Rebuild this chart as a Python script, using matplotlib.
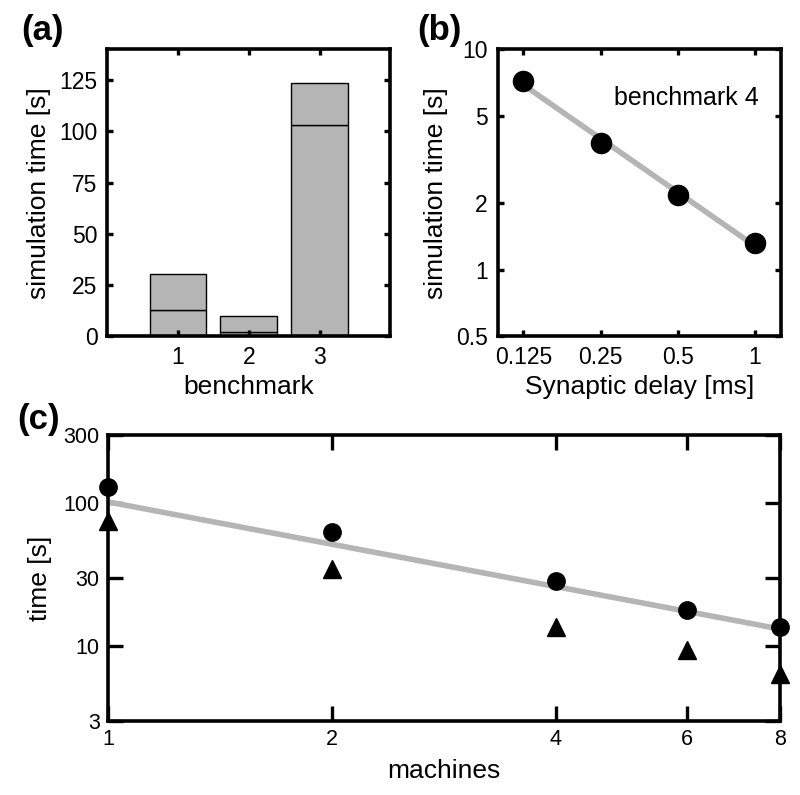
import numpy as np
import matplotlib
matplotlib.use("Agg")
import matplotlib.pyplot as plt
from matplotlib.ticker import FixedLocator, FixedFormatter, NullLocator

plt.rcParams['font.family'] = ['Liberation Sans', 'DejaVu Sans']

# (a) benchmarks: lower part of bar and total height
benchmarks = [1, 2, 3]
time_lower = [13, 2, 103]
time_total = [30.5, 10, 123.5]

# (b) benchmark 4 vs synaptic delay
delay = [0.125, 0.25, 0.5, 1]
time_delay = [7.2, 3.75, 2.18, 1.33]

# (c) scaling with number of machines
machines = [1, 2, 4, 6, 8]
time_circ = [130, 63, 28.7, 17.9, 13.6]
time_tri = [75, 34.8, 13.7, 9.4, 6.4]
ideal_machines = [1, 8]
ideal_time = [102, 13.2]

gray = '#b5b5b6'
tick_fs = 16.5
label_fs = 19


def style_axes(ax, ticklen=4.5):
    for s in ax.spines.values():
        s.set_linewidth(2.6)
    ax.tick_params(which='major', direction='in', top=True, right=True,
                   length=ticklen, width=2.4, labelsize=tick_fs, pad=7)
    ax.tick_params(which='minor', length=0)


fig = plt.figure(figsize=(8, 7.95), dpi=100)

# ---- panel (a)
ax_a = fig.add_axes([0.134, 0.577, 0.354, 0.361])
lower = np.array(time_lower)
upper = np.array(time_total) - lower
ax_a.bar(benchmarks, lower, width=0.8, color=gray, edgecolor='black', linewidth=1.0)
ax_a.bar(benchmarks, upper, width=0.8, bottom=lower, color=gray, edgecolor='black', linewidth=1.0)
ax_a.set_xlim(0, 4)
ax_a.set_ylim(0, 140)
ax_a.set_xticks(benchmarks)
ax_a.set_yticks([0, 25, 50, 75, 100, 125])
ax_a.set_xlabel('benchmark', fontsize=label_fs, labelpad=4)
ax_a.set_ylabel('simulation time [s]', fontsize=label_fs, labelpad=6)
style_axes(ax_a)

# ---- panel (b)
ax_b = fig.add_axes([0.622, 0.577, 0.354, 0.361])
p = np.polyfit(np.log(delay), np.log(time_delay), 1)
fit_b = np.exp(np.polyval(p, np.log(delay)))
ax_b.plot(delay, fit_b, color=gray, lw=4, solid_capstyle='butt', zorder=2)
ax_b.plot(delay, time_delay, 'o', color='black', ms=14.5, zorder=3, clip_on=False)
ax_b.set_xscale('log')
ax_b.set_yscale('log')
ax_b.set_xlim(0.125 / 2 ** (1 / 3), 2 ** (1 / 3))
ax_b.set_ylim(0.5, 10)
ax_b.xaxis.set_major_locator(FixedLocator(delay))
ax_b.xaxis.set_major_formatter(FixedFormatter(['0.125', '0.25', '0.5', '1']))
ax_b.xaxis.set_minor_locator(NullLocator())
ax_b.yaxis.set_major_locator(FixedLocator([0.5, 1, 2, 5, 10]))
ax_b.yaxis.set_major_formatter(FixedFormatter(['0.5', '1', '2', '5', '10']))
ax_b.yaxis.set_minor_locator(NullLocator())
ax_b.set_xlabel('Synaptic delay [ms]', fontsize=label_fs, labelpad=4)
ax_b.set_ylabel('simulation time [s]', fontsize=label_fs, labelpad=6)
ax_b.text(0.666, 0.83, 'benchmark 4', transform=ax_b.transAxes, fontsize=18,
          ha='center', va='center')
style_axes(ax_b)

# ---- panel (c)
ax_c = fig.add_axes([0.135, 0.093, 0.84, 0.360])
ax_c.plot(ideal_machines, ideal_time, color=gray, lw=4, solid_capstyle='butt', zorder=2)
ax_c.plot(machines, time_circ, 'o', color='black', ms=12.5, zorder=3, clip_on=False)
ax_c.plot(machines, time_tri, '^', color='black', ms=13.5, zorder=3, clip_on=False)
ax_c.set_xscale('log')
ax_c.set_yscale('log')
ax_c.set_xlim(1, 8)
ax_c.set_ylim(3, 300)
ax_c.xaxis.set_major_locator(FixedLocator(machines))
ax_c.xaxis.set_major_formatter(FixedFormatter([str(m) for m in machines]))
ax_c.xaxis.set_minor_locator(NullLocator())
ax_c.yaxis.set_major_locator(FixedLocator([3, 10, 30, 100, 300]))
ax_c.yaxis.set_major_formatter(FixedFormatter(['3', '10', '30', '100', '300']))
ax_c.yaxis.set_minor_locator(NullLocator())
ax_c.set_xlabel('machines', fontsize=label_fs, labelpad=6)
ax_c.set_ylabel('time [s]', fontsize=label_fs, labelpad=8)
style_axes(ax_c, ticklen=11)
ax_c.tick_params(labelsize=15.5, pad=6)

# panel letters
for x, y, s in [(0.027, 0.962, '(a)'), (0.522, 0.962, '(b)'), (0.022, 0.472, '(c)')]:
    fig.text(x, y, s, fontsize=25, fontweight='bold', va='center', ha='left')

fig.savefig('out.png', dpi=100)
